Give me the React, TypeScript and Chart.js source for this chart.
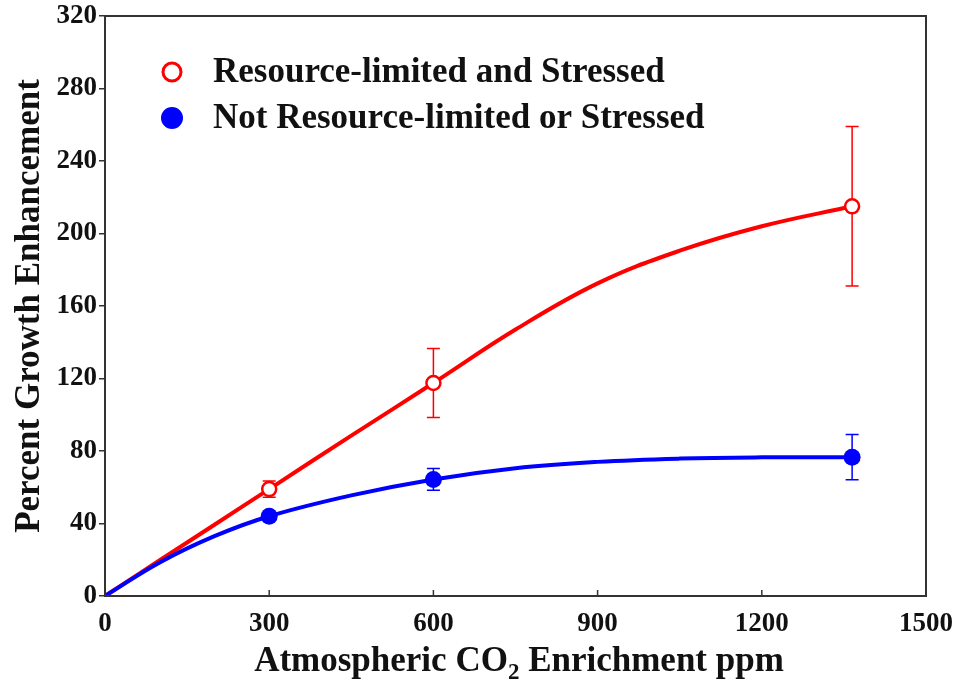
import React, { useEffect, useRef } from "react";
import { Chart, registerables } from "chart.js";

Chart.register(...registerables);

// ---- data ----
const co2Levels = [300, 600, 1365];
const stressedMeans = [59, 117.5, 215];
const stressedErr = [4.5, 19, 44];
const unstressedMeans = [44, 64.3, 76.6];
const unstressedErr = [2, 6, 12.5];

const stressedCurveX = [0, 100, 200, 300, 450, 600, 750, 900, 1050, 1200, 1365];
const stressedCurveY = [0, 19.7, 39.3, 59, 88.5, 117.5, 147, 172.5, 190.5, 204, 215];
const unstressedCurveX = [0, 100, 200, 300, 450, 600, 750, 900, 1050, 1200, 1365];
const unstressedCurveY = [0, 18.5, 33, 44, 55.5, 64.3, 70.5, 74, 75.8, 76.5, 76.6];

const xTicks = [0, 300, 600, 900, 1200, 1500];
const yTicks = [0, 40, 80, 120, 160, 200, 240, 280, 320];

const legendLabels = ["Resource-limited and Stressed", "Not Resource-limited or Stressed"];
const yTitle = "Percent Growth Enhancement";
const xTitleParts = ["Atmospheric CO", "2", " Enrichment ppm"];

const RED = "#ff0000";
const BLUE = "#0000ff";
const AXIS = "#333333";
const SERIF = '"Liberation Serif", "Times New Roman", serif';

const toPts = (xs: number[], ys: number[]) => xs.map((x, i) => ({ x, y: ys[i] }));

export default function App() {
  const ref = useRef<HTMLCanvasElement | null>(null);

  useEffect(() => {
    if (!ref.current) return;

    const decorPlugin = {
      id: "decor",
      beforeDatasetsDraw(chart: any) {
        const { ctx, scales } = chart;
        const xs = scales.x;
        const ys = scales.y;
        ctx.save();
        const drawErr = (means: number[], errs: number[], color: string) => {
          ctx.strokeStyle = color;
          ctx.lineWidth = 1.5;
          co2Levels.forEach((c, i) => {
            const px = xs.getPixelForValue(c);
            const top = ys.getPixelForValue(means[i] + errs[i]);
            const bot = ys.getPixelForValue(means[i] - errs[i]);
            ctx.beginPath();
            ctx.moveTo(px, top);
            ctx.lineTo(px, bot);
            ctx.moveTo(px - 6.5, top);
            ctx.lineTo(px + 6.5, top);
            ctx.moveTo(px - 6.5, bot);
            ctx.lineTo(px + 6.5, bot);
            ctx.stroke();
          });
        };
        drawErr(stressedMeans, stressedErr, RED);
        drawErr(unstressedMeans, unstressedErr, BLUE);
        ctx.restore();
      },
      afterDraw(chart: any) {
        const { ctx, chartArea, scales } = chart;
        const xs = scales.x;
        ctx.save();
        // frame
        ctx.strokeStyle = AXIS;
        ctx.lineWidth = 2;
        ctx.strokeRect(chartArea.left, chartArea.top, chartArea.right - chartArea.left, chartArea.bottom - chartArea.top);
        // inward x ticks
        ctx.lineWidth = 1.5;
        xTicks.forEach((t) => {
          const px = xs.getPixelForValue(t);
          ctx.beginPath();
          ctx.moveTo(px, chartArea.bottom);
          ctx.lineTo(px, chartArea.bottom - 6);
          ctx.stroke();
        });
        // x title with subscript
        ctx.fillStyle = "#111";
        ctx.textBaseline = "alphabetic";
        const big = `bold 35px ${SERIF}`;
        const small = `bold 23px ${SERIF}`;
        ctx.font = big;
        const w0 = ctx.measureText(xTitleParts[0]).width;
        const w2 = ctx.measureText(xTitleParts[2]).width;
        ctx.font = small;
        const w1 = ctx.measureText(xTitleParts[1]).width;
        const total = w0 + w1 + w2;
        const cx = 519;
        const x0 = cx - total / 2;
        const base = 671;
        ctx.textAlign = "left";
        ctx.font = big;
        ctx.fillText(xTitleParts[0], x0, base);
        ctx.font = small;
        ctx.fillText(xTitleParts[1], x0 + w0, base + 8);
        ctx.font = big;
        ctx.fillText(xTitleParts[2], x0 + w0 + w1, base);
        // legend
        const lx = 172;
        const rows = [72, 118];
        ctx.beginPath();
        ctx.arc(lx, rows[0], 9, 0, Math.PI * 2);
        ctx.fillStyle = "#fff";
        ctx.fill();
        ctx.lineWidth = 3;
        ctx.strokeStyle = RED;
        ctx.stroke();
        ctx.beginPath();
        ctx.arc(lx, rows[1], 11, 0, Math.PI * 2);
        ctx.fillStyle = BLUE;
        ctx.fill();
        ctx.fillStyle = "#111";
        ctx.font = `bold 35px ${SERIF}`;
        ctx.textBaseline = "middle";
        ctx.fillText(legendLabels[0], 213, rows[0] + 1);
        ctx.fillText(legendLabels[1], 213, rows[1] + 1);
        ctx.restore();
      },
    };

    const chart = new Chart(ref.current, {
      type: "line",
      data: {
        datasets: [
          {
            label: legendLabels[0],
            data: toPts(co2Levels, stressedMeans),
            showLine: false,
            pointRadius: 7,
            pointBorderWidth: 2.5,
            pointBackgroundColor: "#ffffff",
            pointBorderColor: RED,
            borderColor: RED,
            order: 1,
          },
          {
            label: legendLabels[1],
            data: toPts(co2Levels, unstressedMeans),
            showLine: false,
            pointRadius: 8.5,
            pointBorderWidth: 0,
            pointBackgroundColor: BLUE,
            pointBorderColor: BLUE,
            borderColor: BLUE,
            order: 2,
          },
          {
            label: "stressed fit",
            data: toPts(stressedCurveX, stressedCurveY),
            borderColor: RED,
            borderWidth: 4,
            pointRadius: 0,
            tension: 0.4,
            fill: false,
            order: 4,
          },
          {
            label: "unstressed fit",
            data: toPts(unstressedCurveX, unstressedCurveY),
            borderColor: BLUE,
            borderWidth: 4,
            pointRadius: 0,
            tension: 0.4,
            fill: false,
            order: 3,
          },
        ],
      },
      options: {
        responsive: false,
        animation: false,
        layout: { padding: { top: 16, right: 35, left: 0, bottom: 0 } },
        plugins: { legend: { display: false }, tooltip: { enabled: false } },
        scales: {
          x: {
            type: "linear",
            min: 0,
            max: 1500,
            afterBuildTicks: (s: any) => {
              s.ticks = xTicks.map((v) => ({ value: v }));
            },
            afterFit: (s: any) => {
              s.height = 87;
              s.paddingLeft = 0;
              s.paddingRight = 0;
            },
            border: { display: false },
            grid: { display: false, drawTicks: false },
            ticks: {
              color: "#111",
              padding: 12,
              font: { family: SERIF, size: 27, weight: "bold" },
              maxRotation: 0,
              callback: (v: any) => String(v),
            },
          },
          y: {
            type: "linear",
            min: 0,
            max: 320,
            afterBuildTicks: (s: any) => {
              s.ticks = yTicks.map((v) => ({ value: v }));
            },
            afterFit: (s: any) => {
              s.width = 105;
              s.paddingTop = 0;
              s.paddingBottom = 0;
            },
            border: { display: false },
            grid: { drawOnChartArea: false, drawTicks: true, tickLength: 6, color: AXIS, lineWidth: 1.5 },
            title: {
              display: true,
              text: yTitle,
              color: "#111",
              font: { family: SERIF, size: 35, weight: "bold" },
              padding: { top: 9, bottom: 0 },
            },
            ticks: {
              color: "#111",
              padding: 2,
              font: { family: SERIF, size: 27, weight: "bold" },
              callback: (v: any) => String(v),
            },
          },
        },
      },
      plugins: [decorPlugin],
    } as any);

    return () => chart.destroy();
  }, []);

  return (
    <div style={{ position: "fixed", left: 0, top: 0, width: 961, height: 683, background: "#fff" }}>
      <canvas ref={ref} width={961} height={683} style={{ width: 961, height: 683, display: "block" }} />
    </div>
  );
}
